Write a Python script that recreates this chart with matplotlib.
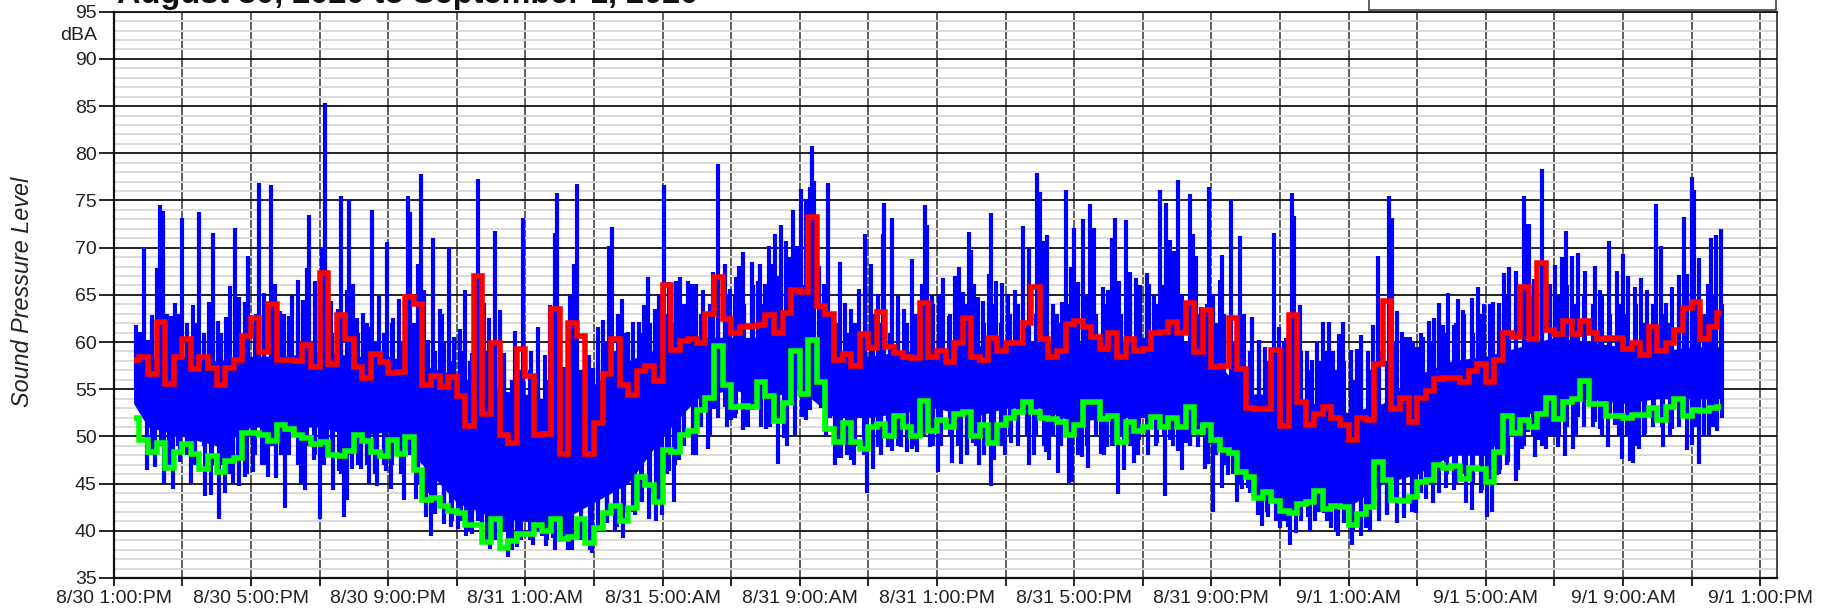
import numpy as np
import matplotlib
matplotlib.use('Agg')
import matplotlib.pyplot as plt
from matplotlib.patches import Rectangle
from matplotlib.ticker import MultipleLocator

plt.rcParams['font.family'] = ['Liberation Sans', 'DejaVu Sans']

TITLE = "August 30, 2020 to September 1, 2020"
X_LABELS = ["8/30 1:00:PM", "8/30 5:00:PM", "8/30 9:00:PM", "8/31 1:00:AM",
            "8/31 5:00:AM", "8/31 9:00:AM", "8/31 1:00:PM", "8/31 5:00:PM",
            "8/31 9:00:PM", "9/1 1:00:AM", "9/1 5:00:AM", "9/1 9:00:AM",
            "9/1 1:00:PM"]

# hours are counted from 8/30 1:00 PM
start_hour = 0.58
end_hour = 46.87

# 15 minute levels, first and last are partial
red_db = [58.1, 58.4, 56.6, 62.1, 55.6, 58.4, 60.3, 57.1, 58.4, 57.3, 55.4, 57.2,
          58.1, 60.6, 62.5, 58.9, 64.0, 58.1, 58.1, 58.0, 59.7, 57.4, 67.3, 57.7,
          62.9, 60.3, 57.4, 56.2, 58.7, 57.9, 56.7, 56.8, 64.8, 64.0, 55.4, 56.4,
          55.2, 56.3, 54.3, 51.1, 67.0, 52.4, 59.9, 50.2, 49.3, 59.3, 56.4, 50.1,
          50.3, 63.5, 48.1, 62.0, 60.6, 48.1, 51.4, 56.6, 60.3, 55.5, 54.4, 56.9,
          57.5, 55.9, 66.0, 59.2, 60.1, 60.3, 59.9, 63.0, 66.9, 62.4, 61.0, 61.6,
          61.7, 61.8, 62.9, 61.0, 63.1, 65.5, 65.3, 73.3, 63.8, 63.0, 58.1, 58.7,
          57.5, 60.9, 59.4, 63.2, 59.5, 58.8, 58.4, 58.3, 64.1, 58.4, 59.1, 57.9,
          59.9, 62.5, 58.4, 58.1, 60.4, 59.0, 59.9, 59.9, 62.0, 65.8, 60.3, 58.4,
          59.1, 61.9, 62.2, 61.6, 60.5, 59.3, 61.0, 58.4, 60.3, 59.1, 59.3, 61.0,
          61.1, 62.1, 61.0, 64.1, 58.9, 63.4, 57.4, 57.5, 62.5, 57.1, 53.0, 52.9,
          52.9, 59.2, 51.1, 62.9, 53.6, 51.2, 52.4, 53.1, 51.9, 51.2, 49.6, 51.9,
          51.7, 57.7, 64.4, 52.9, 54.1, 51.5, 54.1, 54.8, 56.1, 56.2, 56.2, 55.8,
          56.9, 57.7, 55.8, 58.1, 61.0, 60.5, 65.8, 60.3, 68.4, 61.3, 60.9, 62.2,
          60.8, 62.2, 61.0, 60.3, 60.4, 60.4, 59.3, 59.9, 58.6, 61.6, 59.1, 59.9,
          61.3, 63.6, 64.2, 60.3, 61.6, 63.1]

green_db = [52.0, 49.6, 48.4, 49.3, 46.7, 48.3, 49.2, 48.1, 46.5, 47.9, 46.2, 47.4,
            47.7, 50.4, 50.4, 50.2, 49.5, 51.2, 50.8, 50.1, 49.8, 49.2, 49.4, 48.0,
            47.9, 48.5, 50.1, 49.5, 48.3, 47.9, 49.6, 48.1, 49.9, 46.4, 43.3, 43.5,
            42.6, 42.1, 41.9, 40.6, 40.6, 38.8, 41.2, 38.2, 38.9, 39.7, 39.7, 40.6,
            40.0, 41.3, 39.1, 39.3, 41.2, 38.7, 40.3, 41.9, 42.6, 41.0, 42.4, 45.7,
            44.9, 43.0, 48.6, 48.3, 50.1, 50.6, 52.8, 54.1, 59.6, 55.4, 53.1, 53.2,
            53.1, 55.8, 54.3, 51.6, 53.5, 59.1, 54.5, 60.2, 55.8, 50.8, 49.4, 51.4,
            49.4, 48.7, 51.0, 51.3, 50.0, 52.2, 51.0, 50.0, 53.8, 50.6, 51.7, 51.0,
            52.4, 52.6, 50.0, 51.2, 49.3, 51.2, 51.9, 52.6, 53.6, 52.6, 52.0, 51.8,
            51.5, 50.1, 51.2, 53.7, 53.7, 51.8, 52.2, 49.4, 51.5, 50.6, 51.0, 52.1,
            51.0, 52.0, 51.0, 53.1, 50.5, 51.2, 49.6, 48.6, 48.2, 46.2, 45.7, 43.5,
            44.1, 43.2, 42.1, 41.9, 42.8, 43.0, 44.2, 42.3, 42.6, 42.5, 40.6, 41.8,
            42.5, 47.3, 45.4, 43.3, 43.2, 43.6, 45.2, 45.4, 47.0, 46.7, 46.9, 45.5,
            46.7, 46.5, 45.2, 48.4, 52.2, 50.4, 51.7, 51.0, 52.4, 54.1, 51.8, 53.7,
            54.0, 55.9, 53.4, 53.4, 52.2, 52.2, 51.9, 52.3, 52.3, 53.0, 51.7, 53.1,
            54.0, 52.2, 52.8, 52.7, 53.0, 53.1]

# solid part of the 1 second trace
core_hours = [0.58, 1, 2, 3, 4, 5, 6, 7, 8, 9, 10, 11, 12, 13, 14, 15, 16, 17, 18, 19,
              20, 21, 22, 23, 24, 25, 26, 27, 28, 29, 30, 31, 32, 33, 34, 35, 36, 37,
              38, 39, 40, 41, 42, 43, 44, 45, 46, 46.87]
core_hi = [57, 58.5, 58.5, 58, 58.5, 58.5, 59, 58.5, 58.5, 57.5, 56.5, 55, 54.5, 53.5,
           55.5, 58, 59.5, 60.5, 60.5, 60.5, 61.5, 58.5, 58.5, 59, 59, 59.5, 60, 60, 60,
           59.5, 60.5, 60.5, 58.5, 54.5, 54.5, 53.5, 52.5, 53.5, 56.5, 58, 58.5, 59.5,
           60.5, 60, 59.5, 59, 59.5, 59.5]
core_lo = [53.5, 51, 50, 49, 51, 51, 51, 50, 50.5, 47, 43, 41.5, 41, 41, 43, 45, 50, 54,
           55, 54, 55, 52, 52, 52.5, 53, 52, 53, 53, 51.5, 52, 52, 52, 51, 46, 43, 43,
           42.5, 45, 46, 48, 48, 52, 53.5, 54, 53.5, 54, 54, 54]

# top and bottom of the dense teeth, 15 minute readings from 1:00 into the run
tooth_first_hour = 1.125
tooth_hi = [61, 60, 62, 61, 60, 62, 61, 63, 61, 60, 62, 61, 62, 61, 63, 60, 61, 63, 62, 60,
            62, 61, 60, 62, 61, 62, 60, 61, 62, 60, 61, 60, 60, 59, 60, 58, 59, 58, 57, 59,
            57, 58, 56, 57, 57, 55, 56, 58, 56, 55, 57, 55, 58, 60, 59, 61, 60, 61, 62, 61,
            63, 62, 64, 63, 63, 64, 63, 65, 65, 64, 66, 64, 65, 67, 64, 66, 66, 65, 64, 63,
            62, 61, 62, 61, 63, 62, 61, 63, 62, 63, 62, 64, 62, 63, 61, 64, 63, 62, 64, 62,
            63, 64, 62, 63, 63, 64, 62, 64, 63, 65, 63, 64, 64, 63, 65, 64, 65, 64, 66, 64,
            64, 65, 63, 64, 62, 63, 60, 62, 59, 60, 58, 59, 60, 58, 59, 57, 58, 59, 57, 58,
            56, 58, 57, 59, 58, 60, 59, 60, 61, 60, 62, 61, 62, 63, 61, 63, 64, 63, 65, 64,
            63, 65, 64, 65, 65, 66, 64, 65, 64, 65, 63, 64, 63, 64, 62, 64, 63, 62, 64, 63,
            64, 63, 65, 64]
tooth_lo = [48, 49, 47, 49, 48, 47, 49, 47, 47, 46, 48, 46, 48, 47, 49, 48, 48, 47, 49, 48,
            47, 48, 46, 48, 47, 48, 46, 47, 47, 46, 48, 45, 44, 42, 43, 41, 41, 40, 41, 39,
            39, 40, 38, 39, 39, 40, 39, 38, 39, 38, 39, 38, 40, 41, 40, 42, 42, 43, 44, 43,
            46, 47, 49, 48, 51, 50, 52, 51, 52, 51, 53, 51, 51, 52, 49, 50, 53, 54, 53, 52,
            49, 48, 49, 48, 49, 48, 50, 49, 50, 49, 50, 49, 49, 50, 49, 48, 49, 48, 50, 49,
            50, 49, 50, 50, 49, 50, 49, 48, 48, 49, 50, 48, 49, 50, 49, 48, 50, 49, 50, 49,
            50, 49, 50, 49, 48, 47, 46, 45, 44, 43, 42, 41, 41, 42, 41, 40, 42, 41, 40, 41,
            40, 41, 40, 41, 42, 43, 42, 43, 44, 45, 44, 46, 45, 46, 45, 44, 45, 46, 47, 46,
            49, 50, 49, 50, 50, 51, 50, 51, 51, 50, 52, 50, 50, 49, 50, 51, 51, 50, 51, 52,
            51, 50, 51, 52]

peak_hours = [0.64, 0.77, 0.88, 1.01, 1.12, 1.27, 1.35, 1.44, 1.54, 1.66, 1.79, 1.89, 2.00, 2.13,
              2.32, 2.50, 2.63, 2.77, 2.89, 3.05, 3.26, 3.39, 3.55, 3.66, 3.84, 3.92, 4.15, 4.24,
              4.37, 4.59, 4.69, 4.85, 4.96, 5.12, 5.20, 5.38, 5.53, 5.63, 5.70, 5.88, 6.08, 6.16,
              6.33, 6.53, 6.64, 6.80, 6.87, 6.98, 7.10, 7.26, 7.42, 7.54, 7.74, 7.96, 8.13, 8.32,
              8.57, 8.64, 8.76, 8.88, 8.95, 9.04, 9.15, 9.32, 9.51, 9.58, 9.77, 9.93, 10.10, 10.24,
              10.44, 10.63, 10.80, 10.95, 11.13, 11.26, 11.39, 11.70, 11.94,
              12.16, 12.38, 12.57, 12.72, 12.86, 12.91, 13.13, 13.30, 13.42, 13.50, 13.64, 13.87,
              13.98, 14.13, 14.27, 14.45, 14.52, 14.71, 14.83, 15.00, 15.15, 15.30, 15.46, 15.59,
              15.78, 15.91, 16.05, 16.20, 16.39, 16.52, 16.73, 16.87, 16.99, 17.17, 17.46, 17.63,
              17.82, 17.96, 18.13, 18.23, 18.35, 18.62, 18.78, 18.85, 18.98, 19.11, 19.20, 19.28,
              19.44, 19.59, 19.69, 19.79, 19.91, 20.04, 20.17, 20.29, 20.37, 20.43, 20.57, 20.70,
              20.83, 21.18, 21.32, 21.48, 21.73, 21.89, 22.08, 22.29, 22.42, 22.47, 22.70, 22.86,
              23.05, 23.26,
              23.55, 23.64, 23.70, 23.85, 24.07, 24.19, 24.34, 24.53, 24.63, 24.77, 24.94, 25.00,
              25.09, 25.21, 25.33, 25.53, 25.57, 25.72, 25.89, 26.08, 26.28, 26.52, 26.67, 26.92,
              26.99, 27.09, 27.22, 27.38, 27.51, 27.64, 27.76, 27.90, 27.99, 28.10, 28.25, 28.46,
              28.59, 28.85, 29.00,
              29.09, 29.20, 29.32, 29.52, 29.63, 29.80, 29.92, 30.11, 30.19, 30.33, 30.49, 30.69,
              30.80, 30.92, 31.04, 31.15, 31.39, 31.46, 31.55, 31.70, 31.93, 32.06, 32.25, 32.30,
              32.57, 32.74, 32.84, 32.95, 33.19, 33.39, 33.57, 33.84, 33.97, 34.17, 34.36, 34.41,
              34.57,
              34.78, 34.93, 35.09, 35.25, 35.44, 35.56, 35.73, 35.83, 36.06, 36.24, 36.35, 36.58,
              36.71, 36.85, 37.18, 37.26, 37.40, 37.55, 37.68, 37.80, 37.99, 38.16, 38.35, 38.50,
              38.65, 38.76, 38.90, 39.06, 39.20, 39.35, 39.60, 39.77, 39.95, 40.14, 40.22, 40.38,
              40.54, 40.68, 40.87, 41.12, 41.17, 41.27, 41.42, 41.63, 41.87, 42.02, 42.21, 42.33,
              42.51, 42.70, 42.88, 43.17, 43.34, 43.59, 43.82, 44.01, 44.16, 44.35, 44.52, 44.70,
              44.97, 45.11, 45.26, 45.42, 45.62, 45.77, 45.86, 46.00, 46.07, 46.21, 46.47, 46.56,
              46.70, 46.85]
peak_db = [61.8, 61.1, 70.1, 60.2, 62.9, 67.8, 74.5, 73.9, 63.0, 62.8, 64.1, 63.0, 73.1, 62.0,
           63.9, 73.8, 60.5, 64.2, 71.6, 62.2, 62.7, 65.9, 72.1, 64.8, 64.2, 69.1, 63.0, 76.9,
           65.2, 76.6, 66.2, 63.3, 63.0, 62.8, 65.0, 66.6, 64.5, 67.8, 73.5, 66.5, 70.0, 85.3,
           64.4, 63.5, 75.5, 65.5, 75.0, 66.2, 62.5, 63.1, 61.6, 74.0, 64.9, 70.6, 62.5, 64.6,
           75.5, 73.8, 62.0, 68.3, 77.8, 65.5, 60.2, 71.0, 63.5, 63.0, 70.1, 60.5, 61.4, 65.5,
           58.8, 77.3, 64.1, 62.6, 71.8, 63.4, 58.8, 61.2, 73.1,
           59.1, 61.6, 58.6, 63.9, 71.6, 75.8, 57.4, 65.0, 68.3, 76.7, 56.1, 58.6,
           57.2, 61.6, 62.3, 70.2, 72.2, 63.0, 64.6, 61.1, 62.1, 62.1, 63.9, 66.9,
           63.5, 65.1, 76.6, 66.4, 66.5, 66.9, 66.5, 66.2, 66.2, 65.5, 67.4, 78.9,
           68.3, 65.6, 66.9, 68.1, 69.5, 68.5, 66.5, 68.3, 66.2, 70.2, 68.3, 71.5,
           72.4, 70.7, 69.0, 74.0, 70.2, 76.2, 75.2, 76.4, 80.8, 77.1, 68.1, 66.2,
           76.9, 68.5, 64.1, 63.5, 65.6, 71.5, 68.3, 65.1, 71.5, 74.7, 73.1, 65.0,
           63.5, 68.8,
           66.2, 74.5, 72.4, 65.0, 65.1, 66.8, 62.8, 67.0, 68.0, 65.3, 71.7, 69.7,
           66.1, 64.8, 64.4, 67.2, 73.7, 66.5, 66.3, 65.1, 65.5, 72.3, 70.1, 77.9,
           75.9, 70.7, 71.3, 62.8, 63.0, 64.2, 76.1, 68.0, 72.1, 66.4, 73.0, 74.6,
           72.1, 65.8, 65.5,
           71.0, 73.1, 66.5, 72.9, 67.4, 66.8, 66.0, 67.3, 66.2, 65.0, 76.1, 74.7,
           70.8, 69.6, 77.2, 65.1, 75.7, 71.5, 69.1, 63.7, 76.4, 65.1, 66.6, 69.2,
           75.0, 62.8, 71.2, 63.0, 62.7, 60.2, 59.5, 71.6, 61.6, 60.4, 75.8, 73.4,
           63.9,
           59.1, 58.1, 60.0, 62.1, 62.1, 59.1, 60.8, 62.1, 59.2, 59.3, 60.7, 59.0,
           61.8, 69.1, 75.5, 73.1, 63.3, 61.1, 60.5, 60.5, 59.5, 60.5, 62.2, 62.5,
           64.1, 61.8, 65.2, 61.8, 64.6, 63.4, 64.7, 65.8, 64.0, 62.8, 64.2, 64.1,
           67.3, 67.9, 67.5, 75.5, 72.5, 72.5, 66.7, 78.3, 66.2, 68.2, 69.0, 71.8,
           69.1, 69.4, 67.5, 68.1, 65.5, 70.7, 67.5, 69.3, 67.0, 65.8, 66.8, 65.5,
           74.6, 70.2, 64.1, 65.8, 67.1, 73.3, 67.2, 77.5, 76.1, 68.9, 66.2, 71.0,
           71.3, 72.0]

dip_hours = [0.96, 1.20, 1.48, 1.72, 1.93, 2.24, 2.67, 2.85, 3.07, 3.25, 3.49, 3.65, 3.84, 4.05,
             4.32, 4.50, 4.73, 4.99, 5.45, 5.59, 5.83, 6.01, 6.21,
             6.39, 6.57, 6.70, 6.79, 6.94, 7.21, 7.37, 7.44, 7.62, 7.68, 7.93, 8.07, 8.47, 8.80,
             9.09, 9.25, 9.37, 9.63, 9.83, 10.05, 10.26, 10.44, 10.73, 10.97, 11.49, 11.75,
             12.23, 12.48, 12.60, 12.82, 13.23, 13.35, 13.93, 14.37, 14.66, 14.86, 15.20, 15.39,
             15.62, 15.81, 15.99, 16.18, 16.33, 16.49, 16.98, 17.33, 17.51,
             17.82, 17.99, 18.13, 18.36, 18.50, 18.62, 19.01, 19.11, 19.36, 19.55, 20.08, 20.18,
             20.31, 20.76, 21.02, 21.13, 21.20, 21.50, 21.59, 21.96, 22.15, 22.29, 22.58, 22.68,
             22.95, 23.12, 23.28,
             23.43, 23.80, 24.03, 24.45, 24.70, 24.87, 25.06, 25.24, 25.58, 25.67, 25.99, 26.15,
             26.35, 26.69, 26.83, 27.17, 27.28, 27.53, 27.84, 27.93, 28.22, 28.40, 28.77, 28.97,
             29.11, 29.27, 29.45, 29.75, 29.90, 30.14, 30.41, 30.65, 30.80, 31.02, 31.14, 31.26,
             31.37, 31.62, 31.80, 31.91, 32.04, 32.32, 32.48, 32.74, 32.88, 33.06, 33.35, 33.49,
             33.64, 34.01, 34.23, 34.29, 34.48,
             34.82, 35.02, 35.27, 35.49, 35.68, 35.87, 36.09, 36.37, 36.52, 37.11, 37.40, 37.63,
             37.84, 37.97, 38.26, 38.45, 38.84, 39.06, 39.43, 39.61, 39.88, 40.03, 40.17, 40.34,
             40.42, 40.66, 40.87, 40.95, 41.07, 41.24, 41.44, 41.55, 41.75, 42.00, 42.12, 42.31,
             42.55, 42.68, 43.19, 43.33, 43.55, 43.77, 43.97, 44.19, 44.28, 44.47, 44.64, 44.89,
             45.16, 45.42, 45.87, 46.02, 46.23, 46.35, 46.50, 46.74]
dip_db = [46.4, 46.8, 45.0, 44.4, 47.3, 45.1, 43.7, 43.8, 41.2, 44.0, 45.1, 44.7, 45.7, 46.2,
          47.0, 45.7, 45.6, 42.4, 45.1, 44.3, 47.5, 41.2, 47.8,
          44.3, 46.3, 41.5, 43.3, 46.6, 46.6, 47.0, 45.0, 46.3, 44.8, 46.3, 44.4, 43.3, 43.4,
          41.5, 39.4, 41.8, 40.7, 40.4, 40.2, 39.5, 39.7, 38.7, 38.1, 37.2, 38.3,
          38.5, 39.4, 38.4, 39.2, 38.0, 38.5, 37.6, 40.8, 40.4, 39.2, 41.7, 43.1,
          41.3, 41.0, 41.7, 46.3, 43.0, 47.5, 48.0, 48.7, 52.9,
          53.1, 51.7, 52.4, 50.7, 51.0, 52.8, 50.8, 51.7, 47.1, 49.8, 52.1, 51.7,
          52.8, 50.1, 47.0, 47.7, 47.7, 47.5, 47.0, 44.0, 46.6, 48.9, 48.9, 48.5,
          48.9, 48.4, 48.7,
          48.4, 48.9, 46.2, 47.2, 47.1, 48.1, 49.3, 47.0, 44.7, 47.5, 48.0, 49.3,
          49.6, 47.0, 48.0, 48.3, 47.5, 46.1, 45.0, 45.2, 47.8, 46.7, 48.1, 48.9,
          49.0, 43.9, 46.4, 47.2, 49.6, 48.0, 49.3, 43.7, 49.6, 48.5, 46.4, 49.3,
          49.0, 48.9, 46.5, 47.1, 42.0, 44.5, 45.9, 43.0, 44.4, 44.5, 41.7, 40.5,
          41.5, 40.3, 40.4, 38.5, 39.8,
          41.5, 41.0, 41.9, 40.3, 39.4, 40.8, 38.5, 39.5, 40.3, 41.7, 40.8, 41.4,
          42.0, 41.9, 43.4, 42.9, 44.5, 44.3, 42.9, 42.2, 44.3, 41.5, 42.0, 45.9,
          46.4, 47.3, 45.3, 46.4, 48.7, 50.5, 47.8, 49.6, 48.7, 50.1, 48.9, 47.9,
          48.7, 52.1, 51.5, 50.8, 48.9, 51.2, 47.6, 47.4, 47.2, 48.7, 50.3, 51.5,
          48.9, 50.8, 48.6, 49.1, 47.1, 50.5, 50.0, 50.6]

fig = plt.figure(figsize=(18.28, 6.13), dpi=100, facecolor="white")
ax = fig.add_axes([113.7 / 1828, 1 - 578 / 613, (1777 - 113.7) / 1828, (578 - 11.7) / 613])

core_mid = (np.array(core_hi) + np.array(core_lo)) / 2


def spikes(hours, values):
    base = np.interp(hours, core_hours, core_mid)
    ax.vlines(hours, base, values, color="#0000ff", lw=3.0, zorder=3)


tooth_hours = tooth_first_hour + np.arange(len(tooth_hi)) * 0.25
ax.fill_between(core_hours, core_lo, core_hi, color="#0000ff", lw=0, zorder=3)
spikes(tooth_hours, tooth_hi)
spikes(tooth_hours, tooth_lo)
spikes(peak_hours, peak_db)
spikes(dip_hours, dip_db)

edges = np.r_[start_hour, np.arange(3, 188) * 0.25, end_hour]
ax.stairs(red_db, edges, baseline=None, color="#ff0000", lw=4.0, zorder=4)
ax.stairs(green_db, edges, baseline=None, color="#00ff00", lw=4.0, zorder=5)

ax.set_xlim(0, 48.49)
ax.set_ylim(35, 95)
ax.xaxis.set_minor_locator(MultipleLocator(2))
ax.yaxis.set_major_locator(MultipleLocator(5))
ax.yaxis.set_minor_locator(MultipleLocator(1))
ax.set_xticks(np.arange(len(X_LABELS)) * 4)
ax.set_xticklabels(X_LABELS, fontsize=14, color="#222222")
ax.tick_params(axis="y", which="major", length=10.8, width=1.2, labelsize=14, pad=1.5,
               labelcolor="#222222")
ax.tick_params(axis="y", which="minor", length=0)
ax.tick_params(axis="x", which="both", length=5.8, width=1.2, pad=3)

ax.grid(True, axis="y", which="minor", color="#dadada", lw=1.4, zorder=1)
ax.grid(True, axis="y", which="major", color="#111111", lw=1.3, zorder=2)
ax.grid(True, axis="x", which="both", color="#333333", lw=1.1, zorder=2)
ax.set_axisbelow(True)

for side, lw in (("left", 1.6), ("bottom", 1.6), ("top", 1.3), ("right", 1.1)):
    ax.spines[side].set_linewidth(lw)
    ax.spines[side].set_color("#111111")
    ax.spines[side].set_zorder(6)

fig.text(23 / 1828, 1 - 292 / 613, "Sound Pressure Level", rotation=90, style="italic",
         fontsize=16.8, ha="center", va="center", color="#222222")
fig.text(97 / 1828, 1 - 36 / 613, "dBA", fontsize=14, ha="right", va="center", color="#222222")
fig.text(117 / 1828, 1 - 3 / 613, TITLE, fontsize=23.4, fontweight="bold", ha="left",
         va="baseline", color="#111111")

fig.add_artist(Rectangle((1369 / 1828, 1 - 10 / 613), (1776 - 1369) / 1828, 12 / 613,
                         transform=fig.transFigure, facecolor="white", edgecolor="#444444", lw=1.2))

fig.savefig("out.png", dpi=100)
